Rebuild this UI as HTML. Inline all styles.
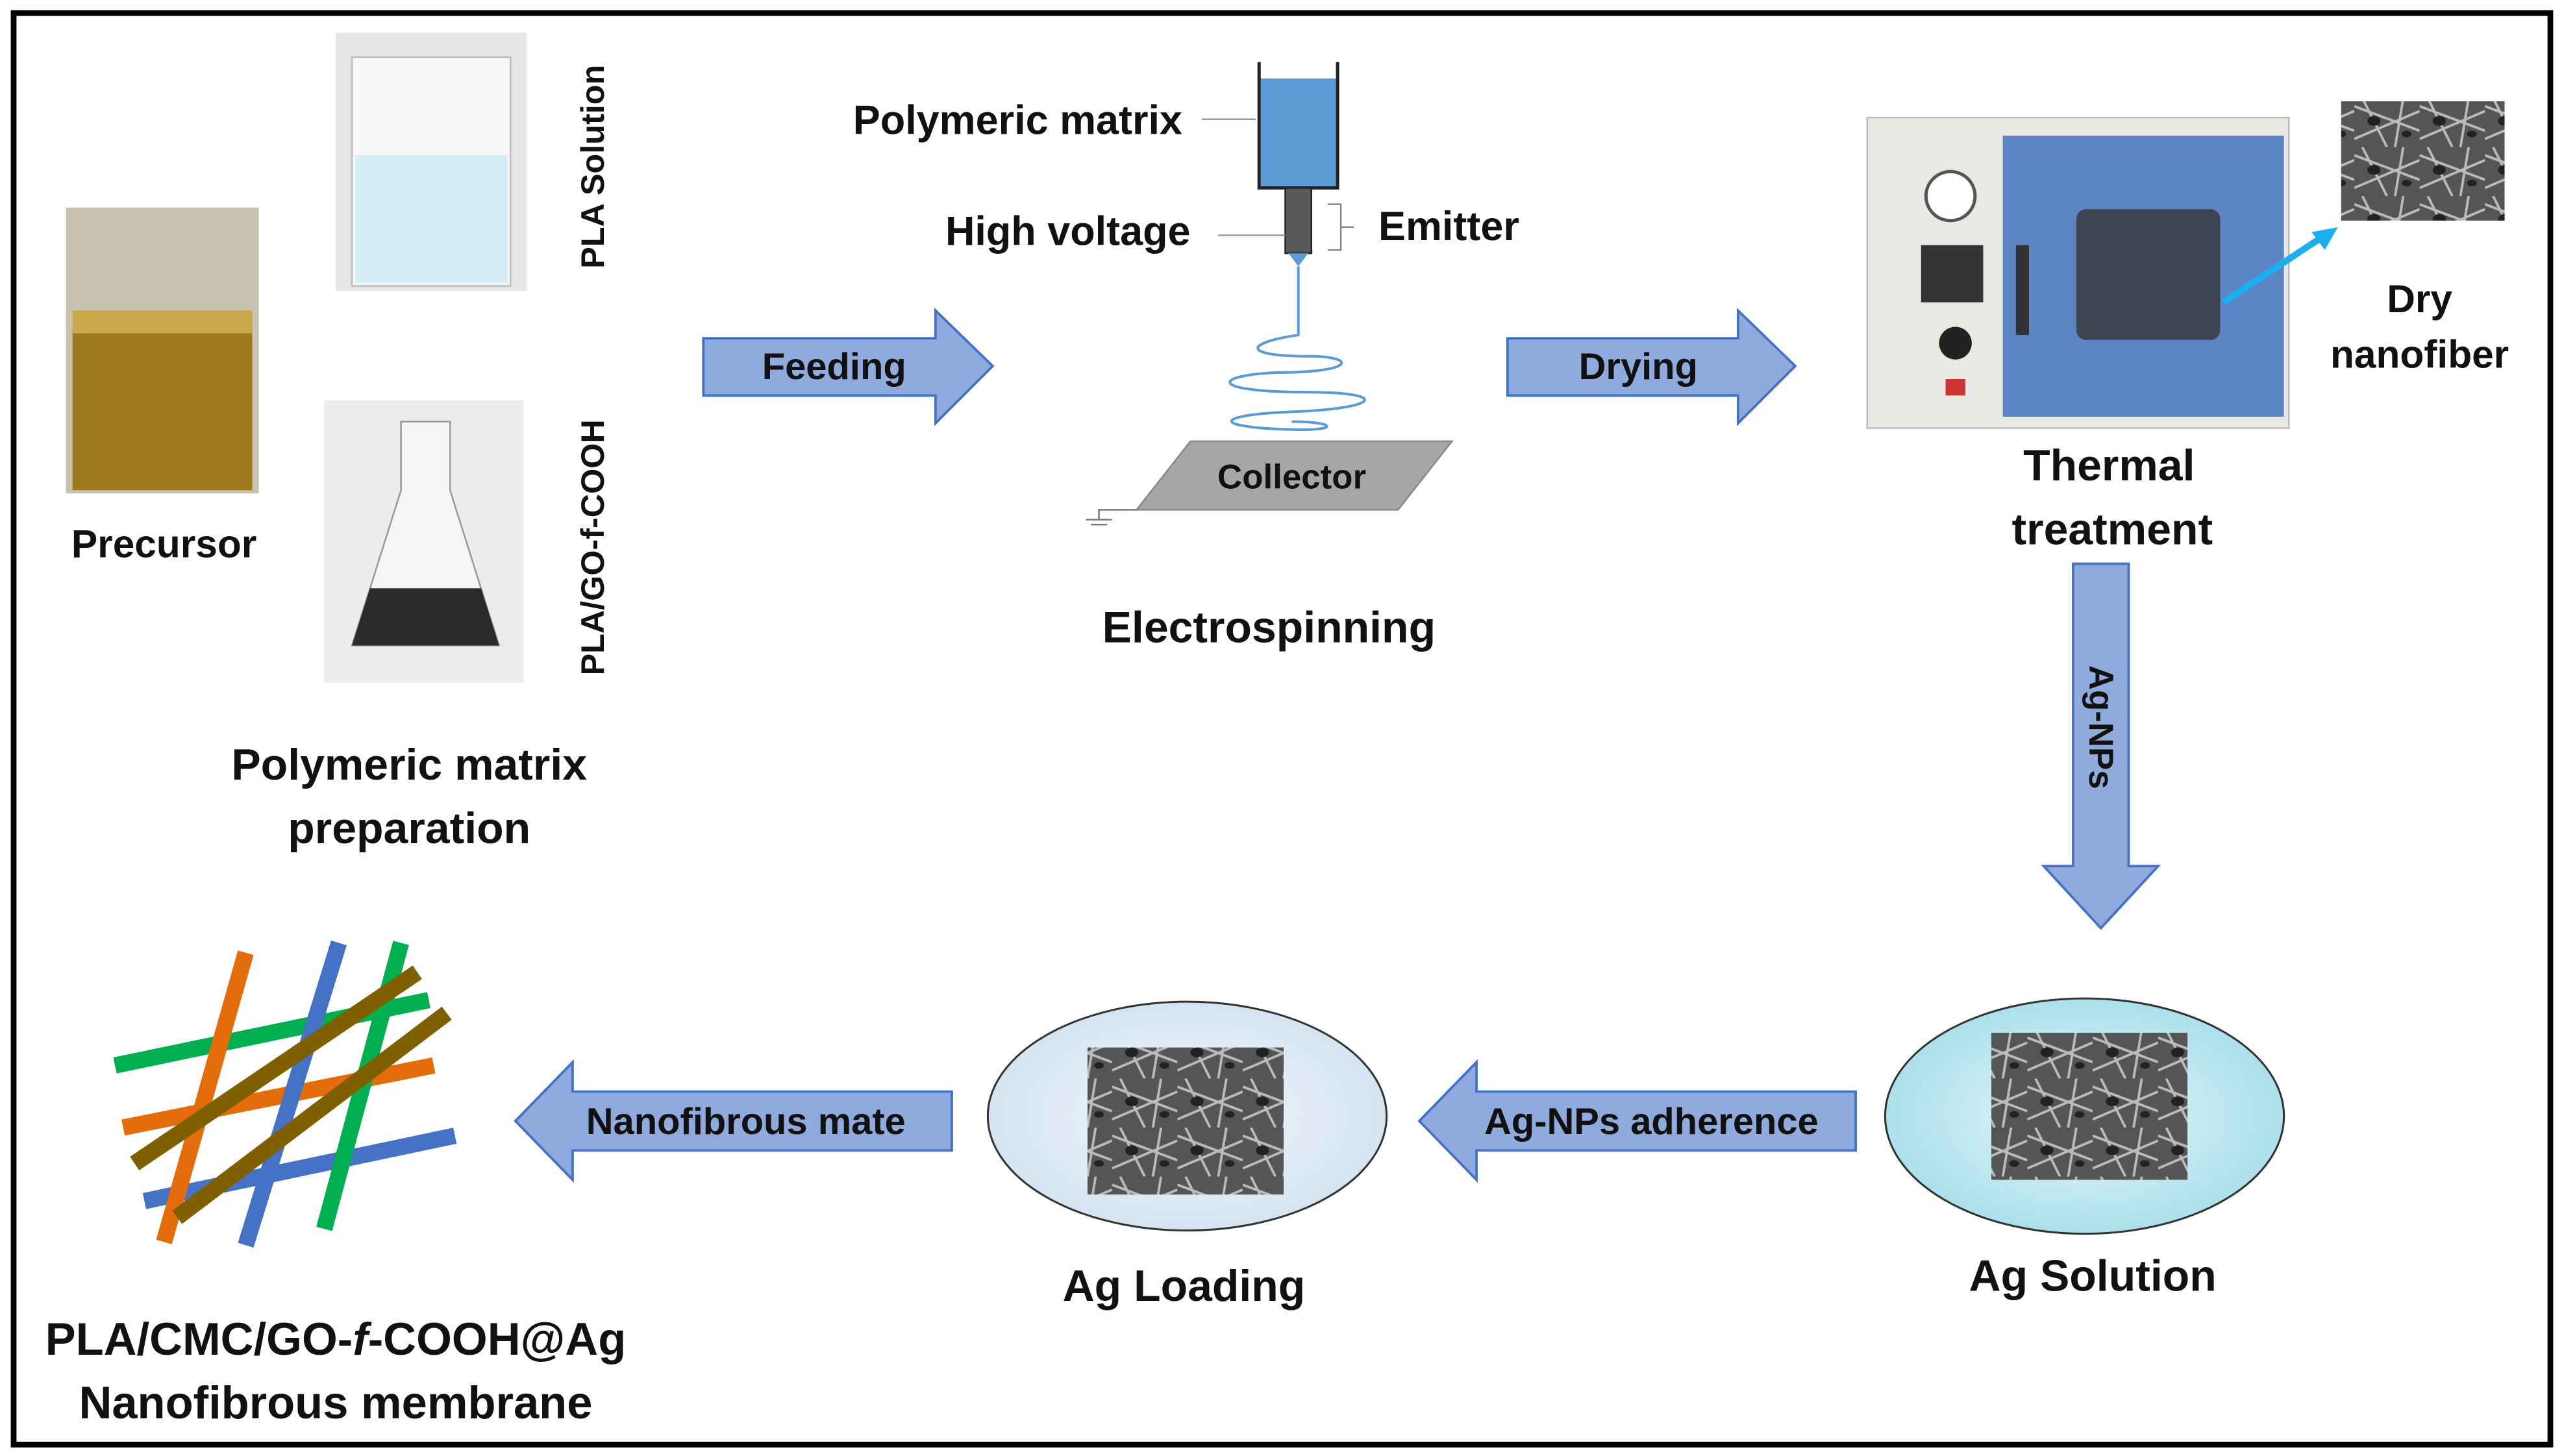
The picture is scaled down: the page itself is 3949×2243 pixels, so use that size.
<!DOCTYPE html>
<html><head><meta charset="utf-8"><style>
html,body{margin:0;padding:0;background:#fff}
svg{display:block}
text{font-family:"Liberation Sans",sans-serif;font-weight:bold;fill:#111}
</style></head><body>
<svg width="3949" height="2243" viewBox="0 0 1568 891" xmlns="http://www.w3.org/2000/svg">
<defs>
<pattern id="sem" width="40" height="30" patternUnits="userSpaceOnUse">
<rect width="40" height="30" fill="#555"/>
<path d="M0 5 L40 20 M5 0 L20 30 M30 0 L25 30 M0 25 L40 8" stroke="#bbb" stroke-width="1.5" fill="none"/>
<ellipse cx="12" cy="14" rx="4" ry="3" fill="#222"/><ellipse cx="32" cy="22" rx="3" ry="2" fill="#222"/>
</pattern>
<radialGradient id="cy" cx="0.5" cy="0.5" r="0.6"><stop offset="0" stop-color="#e8f7fb"/><stop offset="1" stop-color="#9fdbe8"/></radialGradient>
<radialGradient id="pb" cx="0.5" cy="0.5" r="0.6"><stop offset="0" stop-color="#f4f8fc"/><stop offset="1" stop-color="#cfe0f0"/></radialGradient>
</defs>
<rect x="8" y="8" width="1552" height="876" fill="#fff" stroke="#000" stroke-width="3.5"/>

<rect x="40" y="127" width="118" height="175" fill="#c9c2b0"/>
<rect x="44" y="200" width="110" height="100" fill="#9c7a1c"/>
<rect x="44" y="190" width="110" height="14" fill="#c9a84a"/>
<rect x="205" y="20" width="117" height="158" fill="#e6e6e6"/>
<rect x="215" y="35" width="97" height="140" fill="#f5f7f8" stroke="#bbb"/>
<rect x="217" y="95" width="93" height="78" fill="#d5eef5"/>
<rect x="198" y="245" width="122" height="173" fill="#ececec"/>
<path d="M245 258 L275 258 L275 300 L305 395 L215 395 L245 300 Z" fill="#f6f6f6" stroke="#999"/>
<path d="M226 360 L294 360 L305 395 L215 395 Z" fill="#2b2b2b"/>
<text x="0" y="0" font-size="20" transform="translate(369,102) rotate(-90)" text-anchor="middle">PLA Solution</text>
<text x="0" y="0" font-size="20" transform="translate(369,335) rotate(-90)" text-anchor="middle">PLA/GO-f-COOH</text>
<text x="100" y="341" font-size="24" text-anchor="middle">Precursor</text>
<text x="250" y="477" font-size="27" text-anchor="middle">Polymeric matrix</text>
<text x="250" y="516" font-size="27" text-anchor="middle">preparation</text>

<path d="M430 207 L572 207 L572 190 L607 224 L572 259 L572 242 L430 242 Z" fill="#8faadc" stroke="#4472c4" stroke-width="1.5"/>
<text x="510" y="232" font-size="23" text-anchor="middle">Feeding</text>
<path d="M922 207 L1063 207 L1063 190 L1098 224 L1063 259 L1063 242 L922 242 Z" fill="#8faadc" stroke="#4472c4" stroke-width="1.5"/>
<text x="1002" y="232" font-size="23" text-anchor="middle">Drying</text>
<path d="M1268 345 L1302 345 L1302 530 L1320 530 L1285 568 L1250 530 L1268 530 Z" fill="#8faadc" stroke="#4472c4" stroke-width="1.5"/>
<text x="0" y="0" font-size="21" transform="translate(1278,445) rotate(90)" text-anchor="middle">Ag-NPs</text>
<path d="M1135 668 L903 668 L903 650 L868 686 L903 722 L903 704 L1135 704 Z" fill="#8faadc" stroke="#4472c4" stroke-width="1.5"/>
<text x="1010" y="694" font-size="23" text-anchor="middle">Ag-NPs adherence</text>
<path d="M582 668 L350 668 L350 650 L315 686 L350 722 L350 704 L582 704 Z" fill="#8faadc" stroke="#4472c4" stroke-width="1.5"/>
<text x="456" y="694" font-size="23" text-anchor="middle">Nanofibrous mate</text>

<path d="M770 38 L770 115 L818 115 L818 38" fill="none" stroke="#222" stroke-width="2"/>
<rect x="771" y="48" width="46" height="66" fill="#5b9bd5"/>
<rect x="786" y="115" width="16" height="40" fill="#595959" stroke="#222"/>
<path d="M788 155 L800 155 L794 163 Z" fill="#5b9bd5"/>
<line x1="735" y1="73" x2="768" y2="73" stroke="#999"/>
<line x1="745" y1="144" x2="786" y2="144" stroke="#999"/>
<path d="M812 125 L820 125 L820 153 L812 153 M820 139 L828 139" fill="none" stroke="#888"/>
<text x="723" y="82" font-size="25" text-anchor="end">Polymeric matrix</text>
<text x="728" y="150" font-size="25" text-anchor="end">High voltage</text>
<text x="843" y="147" font-size="25">Emitter</text>
<path d="M794 163 L794 205 C760 210 760 218 800 218 C830 218 830 228 780 228 C740 230 740 240 800 240 C850 240 845 250 790 252 C740 254 740 262 795 263 C820 263 815 258 790 258" fill="none" stroke="#5b9bd5" stroke-width="1.6"/>
<path d="M695 312 L728 270 L888 270 L855 312 Z" fill="#a6a6a6" stroke="#888"/>
<text x="790" y="299" font-size="21" text-anchor="middle">Collector</text>
<path d="M695 312 L672 312 L672 318 M664 318 L680 318 M667 321 L677 321" stroke="#777" fill="none"/>
<text x="776" y="393" font-size="27" text-anchor="middle">Electrospinning</text>

<rect x="1142" y="72" width="258" height="190" fill="#e8e8e4" stroke="#bbb"/>
<rect x="1225" y="83" width="172" height="172" fill="#5b84c4"/>
<rect x="1270" y="128" width="88" height="80" rx="6" fill="#3d4450"/>
<rect x="1233" y="150" width="8" height="55" fill="#333"/>
<circle cx="1193" cy="120" r="15" fill="#fff" stroke="#555" stroke-width="2"/>
<rect x="1175" y="150" width="38" height="35" fill="#333"/>
<circle cx="1196" cy="210" r="10" fill="#222"/>
<rect x="1190" y="232" width="12" height="10" fill="#c33"/>
<rect x="1432" y="62" width="100" height="73" fill="url(#sem)"/>
<line x1="1360" y1="185" x2="1422" y2="144" stroke="#1ab0f0" stroke-width="4"/>
<path d="M1430 139 L1414 142 L1422 153 Z" fill="#1ab0f0"/>
<text x="1480" y="191" font-size="24" text-anchor="middle">Dry</text>
<text x="1480" y="225" font-size="24" text-anchor="middle">nanofiber</text>
<text x="1290" y="294" font-size="27" text-anchor="middle">Thermal</text>
<text x="1292" y="333" font-size="27" text-anchor="middle">treatment</text>

<ellipse cx="1275" cy="683" rx="122" ry="72" fill="url(#cy)" stroke="#333" stroke-width="1.2"/>
<rect x="1218" y="632" width="120" height="90" fill="url(#sem)"/>
<text x="1280" y="790" font-size="27" text-anchor="middle">Ag Solution</text>
<ellipse cx="726" cy="683" rx="122" ry="70" fill="url(#pb)" stroke="#333" stroke-width="1.2"/>
<rect x="665" y="641" width="120" height="90" fill="url(#sem)"/>
<text x="724" y="796" font-size="27" text-anchor="middle">Ag Loading</text>

<g stroke-width="10" stroke-linecap="butt">
<line x1="70" y1="652" x2="262" y2="612" stroke="#00b050"/>
<line x1="75" y1="690" x2="265" y2="652" stroke="#e46c0a"/>
<line x1="88" y1="735" x2="278" y2="695" stroke="#4472c4"/>
<line x1="100" y1="760" x2="150" y2="583" stroke="#e46c0a"/>
<line x1="150" y1="762" x2="207" y2="577" stroke="#4472c4"/>
<line x1="198" y1="752" x2="245" y2="577" stroke="#00b050"/>
<line x1="82" y1="712" x2="255" y2="595" stroke="#7f6000"/>
<line x1="108" y1="745" x2="273" y2="620" stroke="#7f6000"/>
</g>
<text x="205" y="829" font-size="28" text-anchor="middle">PLA/CMC/GO-<tspan font-style="italic">f</tspan>-COOH@Ag</text>
<text x="205" y="868" font-size="28" text-anchor="middle">Nanofibrous membrane</text>
</svg>
</body></html>
